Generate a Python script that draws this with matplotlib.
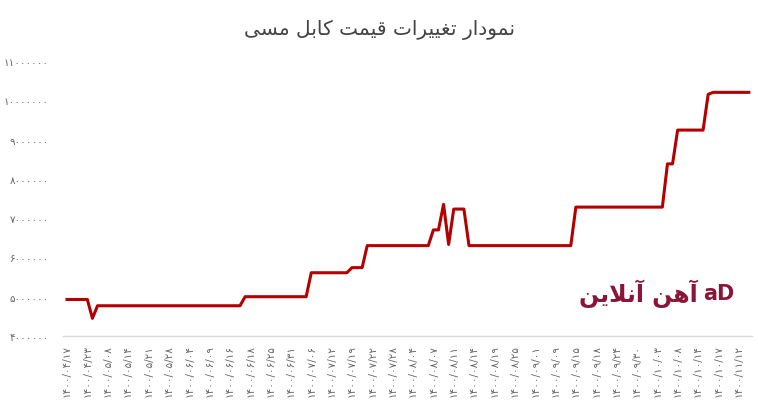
import matplotlib
matplotlib.use("Agg")
import matplotlib.pyplot as plt
import numpy as np

# price of copper cable (rials), one value per recorded day
prices = [
    4930000, 4930000, 4930000, 4930000, 4930000, 4450000, 4770000, 4770000, 4770000, 4770000,
    4770000, 4770000, 4770000, 4770000, 4770000, 4770000, 4770000, 4770000, 4770000, 4770000,
    4770000, 4770000, 4770000, 4770000, 4770000, 4770000, 4770000, 4770000, 4770000, 4770000,
    4770000, 4770000, 4770000, 4770000, 4770000, 5000000, 5000000, 5000000, 5000000, 5000000,
    5000000, 5000000, 5000000, 5000000, 5000000, 5000000, 5000000, 5000000, 5610000, 5610000,
    5610000, 5610000, 5610000, 5610000, 5610000, 5610000, 5740000, 5740000, 5740000, 6300000,
    6300000, 6300000, 6300000, 6300000, 6300000, 6300000, 6300000, 6300000, 6300000, 6300000,
    6300000, 6300000, 6700000, 6700000, 7350000, 6330000, 7230000, 7230000, 7230000, 6300000,
    6300000, 6300000, 6300000, 6300000, 6300000, 6300000, 6300000, 6300000, 6300000, 6300000,
    6300000, 6300000, 6300000, 6300000, 6300000, 6300000, 6300000, 6300000, 6300000, 6300000,
    7280000, 7280000, 7280000, 7280000, 7280000, 7280000, 7280000, 7280000, 7280000, 7280000,
    7280000, 7280000, 7280000, 7280000, 7280000, 7280000, 7280000, 7280000, 8380000, 8380000,
    9240000, 9240000, 9240000, 9240000, 9240000, 9240000, 10150000, 10200000, 10200000, 10200000,
    10200000, 10200000, 10200000, 10200000, 10200000,
]

# dates shown on the x axis (every 4th record)
dates = [
    "1400/04/17", "1400/04/23", "1400/05/08", "1400/05/14", "1400/05/21", "1400/05/28",
    "1400/06/04", "1400/06/09", "1400/06/16", "1400/06/18", "1400/06/25", "1400/06/31",
    "1400/07/06", "1400/07/12", "1400/07/19", "1400/07/22", "1400/07/28", "1400/08/04",
    "1400/08/07", "1400/08/11", "1400/08/14", "1400/08/19", "1400/08/25", "1400/09/01",
    "1400/09/09", "1400/09/15", "1400/09/18", "1400/09/24", "1400/09/30", "1400/10/03",
    "1400/10/08", "1400/10/14", "1400/10/17", "1400/11/12",
]
label_step = 4

yticks = [4000000, 5000000, 6000000, 7000000, 8000000, 9000000, 10000000, 11000000]

title = "نمودار تغییرات قیمت کابل مسی"
brand = "آهن آنلاین"

FA_DIGITS = str.maketrans("0123456789", "۰۱۲۳۴۵۶۷۸۹")

# presentation forms: isolated, final, initial, medial (None -> right joining only)
FORMS = {
    "ا": ("\uFE8D", "\uFE8E", None, None),
    "آ": ("\uFE81", "\uFE82", None, None),
    "ب": ("\uFE8F", "\uFE90", "\uFE91", "\uFE92"),
    "ت": ("\uFE95", "\uFE96", "\uFE97", "\uFE98"),
    "د": ("\uFEA9", "\uFEAA", None, None),
    "ر": ("\uFEAD", "\uFEAE", None, None),
    "س": ("\uFEB1", "\uFEB2", "\uFEB3", "\uFEB4"),
    "غ": ("\uFECD", "\uFECE", "\uFECF", "\uFED0"),
    "ق": ("\uFED5", "\uFED6", "\uFED7", "\uFED8"),
    "ل": ("\uFEDD", "\uFEDE", "\uFEDF", "\uFEE0"),
    "م": ("\uFEE1", "\uFEE2", "\uFEE3", "\uFEE4"),
    "ن": ("\uFEE5", "\uFEE6", "\uFEE7", "\uFEE8"),
    "ه": ("\uFEE9", "\uFEEA", "\uFEEB", "\uFEEC"),
    "و": ("\uFEED", "\uFEEE", None, None),
    "ک": ("\uFB8E", "\uFB8F", "\uFB90", "\uFB91"),
    "ی": ("\uFBFC", "\uFBFD", "\uFBFE", "\uFBFF"),
}
LAM_ALEF = ("\uFEFB", "\uFEFC")


def shape(text):
    # tiny reshaper for the letters used here, then reverse for LTR drawing
    chars = list(text)
    out = []
    i = 0
    while i < len(chars):
        c = chars[i]
        if c not in FORMS:
            out.append(c)
            i += 1
            continue
        prev = chars[i - 1] if i > 0 else None
        join_prev = prev in FORMS and FORMS[prev][2] is not None
        if c == "ل" and i + 1 < len(chars) and chars[i + 1] in ("ا", "آ"):
            out.append(LAM_ALEF[1] if join_prev else LAM_ALEF[0])
            i += 2
            continue
        nxt = chars[i + 1] if i + 1 < len(chars) else None
        can_next = FORMS[c][2] is not None and nxt in FORMS
        iso, fin, ini, med = FORMS[c]
        if join_prev and can_next:
            out.append(med)
        elif join_prev:
            out.append(fin)
        elif can_next:
            out.append(ini)
        else:
            out.append(iso)
        i += 1
    return "".join(reversed(out))


fig = plt.figure(figsize=(7.58, 4.10), dpi=100)
ax = fig.add_axes([0.083, 0.178, 0.909, 0.671])

x = np.arange(len(prices))
ax.plot(x, prices, color="#b30000", linewidth=2.2, solid_joinstyle="round")

ax.set_ylim(4000000, 11000000)
ax.set_xlim(-0.8, len(prices) - 0.4)
ax.set_yticks(yticks)
ax.set_yticklabels([str(v).translate(FA_DIGITS) for v in yticks],
                   fontsize=7.5, color="#666666")
ax.set_xticks(np.arange(0, len(prices), label_step)[:len(dates)])
ax.set_xticklabels([d.translate(FA_DIGITS) for d in dates], rotation=90,
                   fontsize=7.5, color="#666666")
ax.tick_params(axis="x", length=0, pad=6)
ax.tick_params(axis="y", length=0, pad=10)

for side in ["top", "right", "left"]:
    ax.spines[side].set_visible(False)
ax.spines["bottom"].set_color("#d9d9d9")
ax.spines["bottom"].set_linewidth(1)

fig.text(0.5, 0.927, shape(title), ha="center", va="center",
         fontsize=14.5, color="#444444")

# watermark logo
fig.text(0.921, 0.283, shape(brand), ha="right", va="center",
         fontsize=17, fontweight="bold", color="#8a1538")
fig.text(0.927, 0.283, "aD", ha="left", va="center",
         fontsize=15, fontweight="bold", color="#8a1538")

fig.savefig("out.png", dpi=100)
